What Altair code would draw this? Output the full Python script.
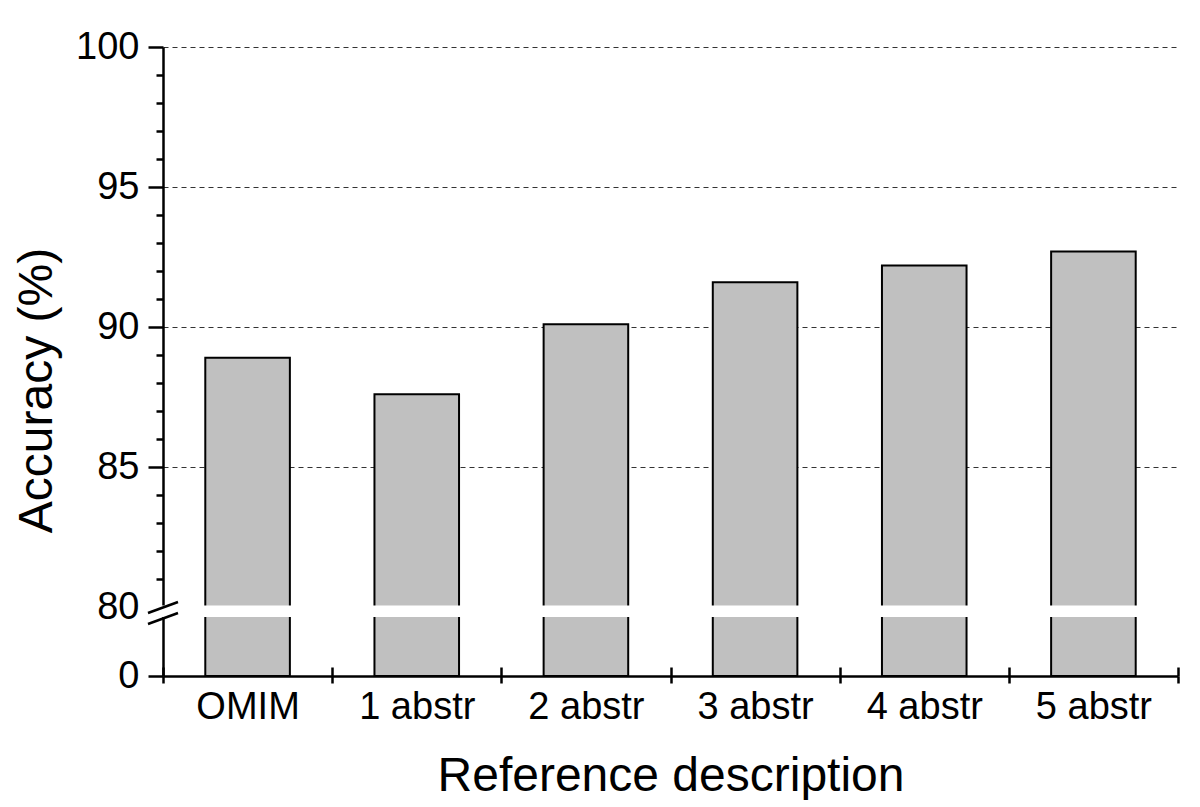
import altair as alt
import pandas as pd

# ---- data ----
categories = ["OMIM", "1 abstr", "2 abstr", "3 abstr", "4 abstr", "5 abstr"]
accuracy = [88.9, 87.6, 90.1, 91.6, 92.2, 92.7]

y_ticks = [0] + list(range(80, 101))
break_hi = 80.05   # top of the axis break (data units)
break_lo = 68.4    # bottom of the axis break (data units)

W, H = 1015, 629
FONT = "Liberation Sans"

df = pd.DataFrame({"cat": categories, "acc": accuracy})
brk = pd.DataFrame({"hi": [break_hi], "lo": [break_lo]})

yscale = alt.Scale(domain=[0, 80, 100], range=[H, 560, 0], nice=False, zero=False)
xscale = alt.Scale(domain=categories, paddingInner=0, paddingOuter=0)

y_axis = alt.Axis(
    values=y_ticks,
    title="Accuracy (%)",
    labelExpr="datum.value % 5 === 0 ? datum.label : ''",
    tickSize={"condition": {"test": "datum.value % 5 === 0", "value": 15}, "value": 7},
    grid=True,
    gridOpacity={"condition": {"test": "datum.value >= 85 && datum.value % 5 === 0", "value": 1}, "value": 0},
    gridDash=[5, 4],
    gridColor="#333333",
    gridWidth=1.2,
    labelPadding=9,
    titlePadding=14,
    titleY=343,
)

x_axis = alt.Axis(
    title="Reference description",
    labelAngle=0,
    tickBand="extent",
    tickSize=7,
    labelPadding=5,
    titlePadding=26,
)

bars = alt.Chart(df).mark_bar(color="#c0c0c0", stroke="black", strokeWidth=2,
                              width={"band": 0.5}).encode(
    x=alt.X("cat:N", sort=categories, scale=xscale, axis=x_axis),
    y=alt.Y("acc:Q", scale=yscale, axis=y_axis, title="Accuracy (%)"),
)

up_ticks = alt.Chart(df).mark_bar(opacity=0).encode(
    x=alt.X("cat:N", sort=categories, scale=xscale,
            axis=alt.Axis(orient="top", offset=-H, labels=False, domain=False, ticks=True,
                          tickSize=9, tickBand="extent", title=None, grid=False)),
)

band = alt.Chart(brk).mark_rect(color="white").encode(
    x=alt.value(-18),
    x2=alt.value(W),
    y=alt.Y("hi:Q", scale=yscale, axis=y_axis, title="Accuracy (%)"),
    y2="lo:Q",
)

slash1 = alt.Chart(brk).mark_rule(color="black", strokeWidth=2.5).encode(
    x=alt.value(-15), x2=alt.value(15), y=alt.value(566), y2=alt.value(555)
)
slash2 = alt.Chart(brk).mark_rule(color="black", strokeWidth=2.5).encode(
    x=alt.value(-15), x2=alt.value(15), y=alt.value(577), y2=alt.value(566)
)

chart = alt.layer(bars, up_ticks, band, slash1, slash2).resolve_axis(x="independent").properties(
    width=W, height=H, padding={"left": 5, "top": 20, "right": 5, "bottom": 0}
).configure_view(stroke=None).configure_axis(
    domainColor="black", domainWidth=2.5, tickColor="black", tickWidth=2.5,
    labelFont=FONT, labelFontSize=38, labelColor="black",
    titleFont=FONT, titleFontSize=48, titleFontWeight="normal", titleColor="black",
)

chart.save("out.html", embed_options={"renderer": "svg", "actions": False})
